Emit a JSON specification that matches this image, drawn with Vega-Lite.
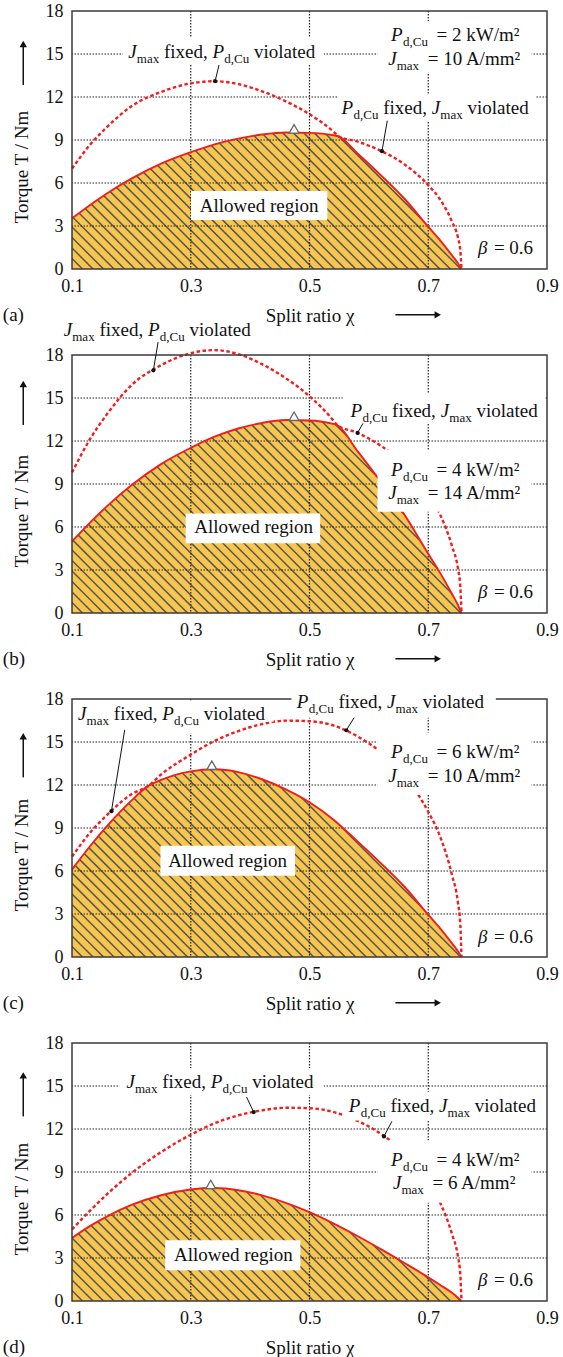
{
"$schema":"https://vega.github.io/schema/vega-lite/v6.json",
"background":"white",
"padding":{"left":2,"top":2,"right":2,"bottom":2},
"autosize":{"type":"pad"},
"data":{"values":[
{"p":"a","k":"c","x":0.1,"a":3.53,"d":7.0},{"p":"a","k":"c","x":0.13,"a":4.45,"d":8.65},{"p":"a","k":"c","x":0.16,"a":5.3,"d":9.95},{"p":"a","k":"c","x":0.2,"a":6.3,"d":11.35},{"p":"a","k":"c","x":0.25,"a":7.35,"d":12.35},{"p":"a","k":"c","x":0.3,"a":8.15,"d":12.95},{"p":"a","k":"c","x":0.34,"a":8.7,"d":13.1},{"p":"a","k":"c","x":0.38,"a":9.1,"d":12.9},{"p":"a","k":"c","x":0.42,"a":9.38,"d":12.4},{"p":"a","k":"c","x":0.46,"a":9.52,"d":11.7},{"p":"a","k":"c","x":0.5,"a":9.5,"d":10.8},{"p":"a","k":"c","x":0.54,"a":9.33,"d":9.6},{"p":"a","k":"c","x":0.55,"a":9.23,"d":9.23},{"p":"a","k":"c","x":0.58,"a":8.1,"d":8.9},{"p":"a","k":"c","x":0.62,"a":6.55,"d":8.25},{"p":"a","k":"c","x":0.66,"a":4.9,"d":7.3},{"p":"a","k":"c","x":0.7,"a":2.95,"d":5.85},{"p":"a","k":"c","x":0.72,"a":2.0,"d":4.85},{"p":"a","k":"c","x":0.74,"a":0.95,"d":3.3},{"p":"a","k":"c","x":0.75,"a":0.4,"d":2.2},{"p":"a","k":"c","x":0.754,"a":0.13,"d":1.3},{"p":"a","k":"c","x":0.756,"a":0,"d":0},{"p":"a","k":"c","x":0.9,"a":0},
{"p":"b","k":"c","x":0.1,"a":4.99,"d":9.8},{"p":"b","k":"c","x":0.13,"a":6.29,"d":12.11},{"p":"b","k":"c","x":0.16,"a":7.49,"d":13.93},{"p":"b","k":"c","x":0.2,"a":8.91,"d":15.89},{"p":"b","k":"c","x":0.25,"a":10.39,"d":17.29},{"p":"b","k":"c","x":0.3,"a":11.52,"d":18.13},{"p":"b","k":"c","x":0.34,"a":12.3,"d":18.34},{"p":"b","k":"c","x":0.38,"a":12.87,"d":18.06},{"p":"b","k":"c","x":0.42,"a":13.26,"d":17.36},{"p":"b","k":"c","x":0.46,"a":13.46,"d":16.38},{"p":"b","k":"c","x":0.5,"a":13.43,"d":15.12},{"p":"b","k":"c","x":0.54,"a":13.19,"d":13.44},{"p":"b","k":"c","x":0.546,"a":13.13,"d":13.13},{"p":"b","k":"c","x":0.58,"a":11.34,"d":12.58},{"p":"b","k":"c","x":0.62,"a":9.17,"d":11.67},{"p":"b","k":"c","x":0.66,"a":6.86,"d":10.32},{"p":"b","k":"c","x":0.7,"a":4.13,"d":8.27},{"p":"b","k":"c","x":0.72,"a":2.8,"d":6.86},{"p":"b","k":"c","x":0.74,"a":1.33,"d":4.67},{"p":"b","k":"c","x":0.75,"a":0.56,"d":3.11},{"p":"b","k":"c","x":0.754,"a":0.18,"d":1.84},{"p":"b","k":"c","x":0.756,"a":0,"d":0},{"p":"b","k":"c","x":0.9,"a":0},
{"p":"c","k":"c","x":0.1,"a":6.11,"d":7.0},{"p":"c","k":"c","x":0.13,"a":7.71,"d":8.65},{"p":"c","k":"c","x":0.16,"a":9.18,"d":9.95},{"p":"c","k":"c","x":0.2,"a":10.91,"d":11.35},{"p":"c","k":"c","x":0.228,"a":11.92,"d":11.92},{"p":"c","k":"c","x":0.25,"a":12.35,"d":12.73},{"p":"c","k":"c","x":0.3,"a":12.95,"d":14.12},{"p":"c","k":"c","x":0.34,"a":13.1,"d":15.07},{"p":"c","k":"c","x":0.38,"a":12.9,"d":15.76},{"p":"c","k":"c","x":0.42,"a":12.4,"d":16.25},{"p":"c","k":"c","x":0.46,"a":11.7,"d":16.49},{"p":"c","k":"c","x":0.5,"a":10.8,"d":16.45},{"p":"c","k":"c","x":0.54,"a":9.6,"d":16.16},{"p":"c","k":"c","x":0.58,"a":8.1,"d":15.41},{"p":"c","k":"c","x":0.62,"a":6.55,"d":14.29},{"p":"c","k":"c","x":0.66,"a":4.9,"d":12.64},{"p":"c","k":"c","x":0.7,"a":2.95,"d":10.13},{"p":"c","k":"c","x":0.72,"a":2.0,"d":8.4},{"p":"c","k":"c","x":0.74,"a":0.95,"d":5.72},{"p":"c","k":"c","x":0.75,"a":0.4,"d":3.81},{"p":"c","k":"c","x":0.754,"a":0.13,"d":2.25},{"p":"c","k":"c","x":0.756,"a":0,"d":0},{"p":"c","k":"c","x":0.9,"a":0},
{"p":"d","k":"c","x":0.1,"a":4.4,"d":4.99},{"p":"d","k":"c","x":0.13,"a":5.22,"d":6.29},{"p":"d","k":"c","x":0.16,"a":5.92,"d":7.49},{"p":"d","k":"c","x":0.2,"a":6.7,"d":8.91},{"p":"d","k":"c","x":0.25,"a":7.38,"d":10.39},{"p":"d","k":"c","x":0.3,"a":7.78,"d":11.6},{"p":"d","k":"c","x":0.34,"a":7.88,"d":12.4},{"p":"d","k":"c","x":0.38,"a":7.73,"d":12.95},{"p":"d","k":"c","x":0.42,"a":7.37,"d":13.3},{"p":"d","k":"c","x":0.46,"a":6.85,"d":13.48},{"p":"d","k":"c","x":0.5,"a":6.2,"d":13.45},{"p":"d","k":"c","x":0.54,"a":5.42,"d":13.19},{"p":"d","k":"c","x":0.58,"a":4.55,"d":12.58},{"p":"d","k":"c","x":0.62,"a":3.62,"d":11.67},{"p":"d","k":"c","x":0.66,"a":2.65,"d":10.32},{"p":"d","k":"c","x":0.7,"a":1.65,"d":8.27},{"p":"d","k":"c","x":0.72,"a":1.12,"d":6.86},{"p":"d","k":"c","x":0.74,"a":0.57,"d":4.67},{"p":"d","k":"c","x":0.75,"a":0.23,"d":3.11},{"p":"d","k":"c","x":0.754,"a":0.08,"d":1.84},{"p":"d","k":"c","x":0.756,"a":0,"d":0},{"p":"d","k":"c","x":0.9,"a":0},
{"p":"a","k":"h","h0":[0.1,0.1177,0.1354,0.1531,0.1708,0.1885,0.2062,0.2239,0.2416,0.2593,0.277,0.2947,0.3124,0.3301,0.3478,0.3655,0.3832,0.4009,0.4186,0.4363,0.454,0.4717,0.4894,0.5071,0.5248,0.5425,0.5602,0.5779,0.5956,0.6133,0.631,0.6487,0.6664,0.6841,0.7018,0.7195,0.7372,0.7549,0.7726,0.7903,0.808,0.8257,0.8434,0.8611,0.8788,0.8965,0.9142,0.9319,0.9496,0.9673,0.985,1.0027,1.0204,1.0381,1.0558,1.0735,1.0912,1.1089,1.1266],"h1":[-0.3345,-0.3168,-0.2991,-0.2814,-0.2637,-0.246,-0.2283,-0.2106,-0.1929,-0.1752,-0.1575,-0.1398,-0.1221,-0.1044,-0.0867,-0.069,-0.0513,-0.0336,-0.0159,0.0018,0.0195,0.0372,0.0549,0.0726,0.0903,0.108,0.1257,0.1434,0.1611,0.1788,0.1965,0.2142,0.2319,0.2496,0.2673,0.285,0.3027,0.3204,0.3381,0.3558,0.3735,0.3912,0.4089,0.4266,0.4443,0.462,0.4797,0.4974,0.5151,0.5328,0.5505,0.5682,0.5859,0.6036,0.6213,0.639,0.6567,0.6744,0.6921]},
{"p":"b","k":"h","h0":[0.1,0.1177,0.1354,0.1531,0.1708,0.1885,0.2062,0.2239,0.2416,0.2593,0.277,0.2947,0.3124,0.3301,0.3478,0.3655,0.3832,0.4009,0.4186,0.4363,0.454,0.4717,0.4894,0.5071,0.5248,0.5425,0.5602,0.5779,0.5956,0.6133,0.631,0.6487,0.6664,0.6841,0.7018,0.7195,0.7372,0.7549,0.7726,0.7903,0.808,0.8257,0.8434,0.8611,0.8788,0.8965,0.9142,0.9319,0.9496,0.9673,0.985,1.0027,1.0204,1.0381,1.0558,1.0735,1.0912,1.1089,1.1266],"h1":[-0.3345,-0.3168,-0.2991,-0.2814,-0.2637,-0.246,-0.2283,-0.2106,-0.1929,-0.1752,-0.1575,-0.1398,-0.1221,-0.1044,-0.0867,-0.069,-0.0513,-0.0336,-0.0159,0.0018,0.0195,0.0372,0.0549,0.0726,0.0903,0.108,0.1257,0.1434,0.1611,0.1788,0.1965,0.2142,0.2319,0.2496,0.2673,0.285,0.3027,0.3204,0.3381,0.3558,0.3735,0.3912,0.4089,0.4266,0.4443,0.462,0.4797,0.4974,0.5151,0.5328,0.5505,0.5682,0.5859,0.6036,0.6213,0.639,0.6567,0.6744,0.6921]},
{"p":"c","k":"h","h0":[0.1,0.1177,0.1354,0.1531,0.1708,0.1885,0.2062,0.2239,0.2416,0.2593,0.277,0.2947,0.3124,0.3301,0.3478,0.3655,0.3832,0.4009,0.4186,0.4363,0.454,0.4717,0.4894,0.5071,0.5248,0.5425,0.5602,0.5779,0.5956,0.6133,0.631,0.6487,0.6664,0.6841,0.7018,0.7195,0.7372,0.7549,0.7726,0.7903,0.808,0.8257,0.8434,0.8611,0.8788,0.8965,0.9142,0.9319,0.9496,0.9673,0.985,1.0027,1.0204,1.0381,1.0558,1.0735,1.0912,1.1089,1.1266],"h1":[-0.3345,-0.3168,-0.2991,-0.2814,-0.2637,-0.246,-0.2283,-0.2106,-0.1929,-0.1752,-0.1575,-0.1398,-0.1221,-0.1044,-0.0867,-0.069,-0.0513,-0.0336,-0.0159,0.0018,0.0195,0.0372,0.0549,0.0726,0.0903,0.108,0.1257,0.1434,0.1611,0.1788,0.1965,0.2142,0.2319,0.2496,0.2673,0.285,0.3027,0.3204,0.3381,0.3558,0.3735,0.3912,0.4089,0.4266,0.4443,0.462,0.4797,0.4974,0.5151,0.5328,0.5505,0.5682,0.5859,0.6036,0.6213,0.639,0.6567,0.6744,0.6921]},
{"p":"d","k":"h","h0":[0.1,0.1177,0.1354,0.1531,0.1708,0.1885,0.2062,0.2239,0.2416,0.2593,0.277,0.2947,0.3124,0.3301,0.3478,0.3655,0.3832,0.4009,0.4186,0.4363,0.454,0.4717,0.4894,0.5071,0.5248,0.5425,0.5602,0.5779,0.5956,0.6133,0.631,0.6487,0.6664,0.6841,0.7018,0.7195,0.7372,0.7549,0.7726,0.7903,0.808,0.8257,0.8434,0.8611,0.8788,0.8965,0.9142,0.9319,0.9496,0.9673,0.985,1.0027,1.0204,1.0381,1.0558,1.0735,1.0912,1.1089,1.1266],"h1":[-0.3345,-0.3168,-0.2991,-0.2814,-0.2637,-0.246,-0.2283,-0.2106,-0.1929,-0.1752,-0.1575,-0.1398,-0.1221,-0.1044,-0.0867,-0.069,-0.0513,-0.0336,-0.0159,0.0018,0.0195,0.0372,0.0549,0.0726,0.0903,0.108,0.1257,0.1434,0.1611,0.1788,0.1965,0.2142,0.2319,0.2496,0.2673,0.285,0.3027,0.3204,0.3381,0.3558,0.3735,0.3912,0.4089,0.4266,0.4443,0.462,0.4797,0.4974,0.5151,0.5328,0.5505,0.5682,0.5859,0.6036,0.6213,0.639,0.6567,0.6744,0.6921]},
{"p":"a","k":"gx","v":0.3},{"p":"a","k":"gx","v":0.5},{"p":"a","k":"gx","v":0.7},{"p":"a","k":"gy","v":3},{"p":"a","k":"gy","v":6},{"p":"a","k":"gy","v":9},{"p":"a","k":"gy","v":12},{"p":"a","k":"gy","v":15},
{"p":"b","k":"gx","v":0.3},{"p":"b","k":"gx","v":0.5},{"p":"b","k":"gx","v":0.7},{"p":"b","k":"gy","v":3},{"p":"b","k":"gy","v":6},{"p":"b","k":"gy","v":9},{"p":"b","k":"gy","v":12},{"p":"b","k":"gy","v":15},
{"p":"c","k":"gx","v":0.3},{"p":"c","k":"gx","v":0.5},{"p":"c","k":"gx","v":0.7},{"p":"c","k":"gy","v":3},{"p":"c","k":"gy","v":6},{"p":"c","k":"gy","v":9},{"p":"c","k":"gy","v":12},{"p":"c","k":"gy","v":15},
{"p":"d","k":"gx","v":0.3},{"p":"d","k":"gx","v":0.5},{"p":"d","k":"gx","v":0.7},{"p":"d","k":"gy","v":3},{"p":"d","k":"gy","v":6},{"p":"d","k":"gy","v":9},{"p":"d","k":"gy","v":12},{"p":"d","k":"gy","v":15},
{"p":"a","k":"bx","x1":0.1858,"x2":0.524,"y1":14.25,"y2":16.14},{"p":"a","k":"bx","x1":0.548,"x2":0.88,"y1":10.3,"y2":12.19},{"p":"a","k":"bx","x1":0.6145,"x2":0.874,"y1":13.7,"y2":17.3},{"p":"a","k":"bx","x1":0.3005,"x2":0.53,"y1":3.42,"y2":5.44},
{"p":"b","k":"bx","x1":0.556,"x2":0.897,"y1":13.18,"y2":15.3},{"p":"b","k":"bx","x1":0.6145,"x2":0.874,"y1":7.07,"y2":11.37},{"p":"b","k":"bx","x1":0.2914,"x2":0.518,"y1":4.86,"y2":6.95},
{"p":"c","k":"bx","x1":0.104,"x2":0.322,"y1":15.6,"y2":17.9},{"p":"c","k":"bx","x1":0.322,"x2":0.4394,"y1":16.42,"y2":17.9},{"p":"c","k":"bx","x1":0.4696,"x2":0.8138,"y1":16.7,"y2":18.6},{"p":"c","k":"bx","x1":0.6145,"x2":0.874,"y1":11.3,"y2":15.67},{"p":"c","k":"bx","x1":0.249,"x2":0.4756,"y1":5.67,"y2":7.77},
{"p":"d","k":"bx","x1":0.1797,"x2":0.524,"y1":14.37,"y2":16.25},{"p":"d","k":"bx","x1":0.557,"x2":0.89,"y1":12.6,"y2":14.6},{"p":"d","k":"bx","x1":0.6145,"x2":0.874,"y1":6.85,"y2":11.2},{"p":"d","k":"bx","x1":0.257,"x2":0.4847,"y1":2.14,"y2":4.23},
{"p":"a","k":"ld","x1":0.3476,"y1":14.23,"x2":0.341,"y2":13.1},{"p":"a","k":"ld","x1":0.631,"y1":10.35,"x2":0.622,"y2":8.22},
{"p":"b","k":"ld","x1":0.245,"y1":18.9,"x2":0.237,"y2":16.93},{"p":"b","k":"ld","x1":0.59,"y1":13.23,"x2":0.581,"y2":12.56},
{"p":"c","k":"ld","x1":0.1888,"y1":15.85,"x2":0.1664,"y2":10.17},{"p":"c","k":"ld","x1":0.5752,"y1":16.7,"x2":0.562,"y2":15.82},
{"p":"d","k":"ld","x1":0.394,"y1":14.23,"x2":0.406,"y2":13.18},{"p":"d","k":"ld","x1":0.6387,"y1":12.53,"x2":0.6254,"y2":11.48},
{"p":"a","k":"tri","x":0.474,"y":9.78},{"p":"b","k":"tri","x":0.474,"y":13.73},{"p":"c","k":"tri","x":0.3355,"y":13.38},{"p":"d","k":"tri","x":0.3337,"y":8.13},
{"p":"a","k":"ax","x1":0.6447,"x2":0.716,"y":-3.2},{"p":"b","k":"ax","x1":0.6447,"x2":0.716,"y":-3.2},{"p":"c","k":"ax","x1":0.6447,"x2":0.716,"y":-3.2},
{"p":"a","k":"ay","x":0.0179,"y1":12.84,"y2":15.7},{"p":"b","k":"ay","x":0.0179,"y1":13.12,"y2":15.98},{"p":"c","k":"ay","x":0.0179,"y1":12.53,"y2":15.4},{"p":"d","k":"ay","x":0.0179,"y1":12.88,"y2":15.74},
{"p":"a","k":"pl","x":-0.0165,"y":-3.65,"t":"(a)"},{"p":"b","k":"pl","x":-0.0165,"y":-3.65,"t":"(b)"},{"p":"c","k":"pl","x":-0.0165,"y":-3.65,"t":"(c)"},{"p":"d","k":"pl","x":-0.0165,"y":-3.65,"t":"(d)"},
{"p":"a","k":"L1","x":0.1948,"y":14.74},{"p":"b","k":"L1","x":0.0861,"y":19.33},{"p":"c","k":"L1","x":0.1103,"y":16.53},{"p":"d","k":"L1","x":0.1918,"y":14.86},
{"p":"a","k":"L2","x":0.554,"y":10.79},{"p":"b","k":"L2","x":0.569,"y":13.67},{"p":"c","k":"L2","x":0.4786,"y":17.35},{"p":"d","k":"L2","x":0.5662,"y":13.16},
{"p":"a","k":"PP","x":0.6374,"y":15.91,"t":"= 2 kW/m²"},{"p":"b","k":"PP","x":0.6374,"y":9.56,"t":"= 4 kW/m²"},{"p":"c","k":"PP","x":0.6374,"y":13.86,"t":"= 6 kW/m²"},{"p":"d","k":"PP","x":0.6374,"y":9.44,"t":"= 4 kW/m²"},
{"p":"a","k":"PJ","x":0.6326,"y":14.21,"t":"= 10 A/mm²"},{"p":"b","k":"PJ","x":0.6326,"y":7.93,"t":"= 14 A/mm²"},{"p":"c","k":"PJ","x":0.6326,"y":12.19,"t":"= 10 A/mm²"},{"p":"d","k":"PJ","x":0.6405,"y":7.81,"t":"= 6 A/mm²"},
{"p":"a","k":"B","x":0.7836,"y":1.02},{"p":"b","k":"B","x":0.7836,"y":1.07},{"p":"c","k":"B","x":0.7836,"y":1.0},{"p":"d","k":"B","x":0.7836,"y":1.07},
{"p":"a","k":"AR","x":0.4152,"y":4.0},{"p":"b","k":"AR","x":0.406,"y":5.56},{"p":"c","k":"AR","x":0.362,"y":6.3},{"p":"d","k":"AR","x":0.3717,"y":2.77}
]},
"facet":{"row":{"field":"p","type":"nominal","header":{"title":null,"labels":false}}},
"spacing":{"row":86},
"bounds":"flush",
"resolve":{"axis":{"x":"independent"}},
"spec":{
"width":475,"height":258,
"layer":[
{"transform":[{"filter":"datum.k=='c'"}],"mark":{"type":"area","color":"#F7C64F","interpolate":"monotone"},
 "encoding":{
  "x":{"field":"x","type":"quantitative","scale":{"domain":[0.1,0.9],"nice":false,"zero":false},
   "axis":{"values":[0.1,0.3,0.5,0.7,0.9],"format":".1f","title":"Split ratio χ","labelPadding":8,"labelFlush":false,"labelOverlap":false,"titleX":237.5,"titleY":46,"titleBaseline":"middle"}},
  "y":{"field":"a","type":"quantitative","scale":{"domain":[0,18],"nice":false,"zero":false},
   "axis":{"values":[0,3,6,9,12,15,18],"format":"d","title":"Torque T / Nm","labelPadding":9,"labelFlush":false,"labelOverlap":false,"titleX":-51,"titleY":155.5,"titleBaseline":"middle"}},
  "y2":{"datum":0}}},
{"transform":[{"filter":"datum.k=='h'"},{"flatten":["h0","h1"]}],"mark":{"type":"rule","color":"#555555","strokeWidth":1.5,"clip":true},
 "encoding":{"x":{"field":"h0","type":"quantitative"},"x2":{"field":"h1"},"y":{"datum":0},"y2":{"datum":18}}},
{"transform":[{"filter":"datum.k=='c'"}],"mark":{"type":"area","color":"white","interpolate":"monotone"},
 "encoding":{"x":{"field":"x","type":"quantitative"},"y":{"field":"a","type":"quantitative"},"y2":{"datum":18}}},
{"transform":[{"filter":"datum.k=='gx'"}],"mark":{"type":"rule","color":"#222","strokeWidth":1.2,"strokeDash":[1.5,1.5]},
 "encoding":{"x":{"field":"v","type":"quantitative"}}},
{"transform":[{"filter":"datum.k=='gy'"}],"mark":{"type":"rule","color":"#222","strokeWidth":1.2,"strokeDash":[1.5,1.5]},
 "encoding":{"y":{"field":"v","type":"quantitative"}}},
{"transform":[{"filter":"datum.k=='c' && datum.x<=0.757"}],"mark":{"type":"line","color":"#F01E1E","strokeWidth":1.9,"interpolate":"monotone"},
 "encoding":{"x":{"field":"x","type":"quantitative"},"y":{"field":"a","type":"quantitative"}}},
{"transform":[{"filter":"datum.k=='c' && isValid(datum.d)"}],"mark":{"type":"line","color":"#F01E1E","strokeWidth":2.4,"strokeDash":[3.5,2.5],"interpolate":"monotone"},
 "encoding":{"x":{"field":"x","type":"quantitative"},"y":{"field":"d","type":"quantitative"}}},
{"transform":[{"filter":"datum.k=='pl'"}],"mark":{"type":"rect","filled":false,"stroke":"#3a3a3a","strokeWidth":1.5},
 "encoding":{"x":{"datum":0.1},"x2":{"datum":0.9},"y":{"datum":0},"y2":{"datum":18}}},
{"transform":[{"filter":"datum.k=='bx'"}],"mark":{"type":"rect","color":"white"},
 "encoding":{"x":{"field":"x1","type":"quantitative"},"x2":{"field":"x2"},"y":{"field":"y1","type":"quantitative"},"y2":{"field":"y2"}}},
{"transform":[{"filter":"datum.k=='ld'"}],"mark":{"type":"rule","color":"#111","strokeWidth":1},
 "encoding":{"x":{"field":"x1","type":"quantitative"},"x2":{"field":"x2"},"y":{"field":"y1","type":"quantitative"},"y2":{"field":"y2"}}},
{"transform":[{"filter":"datum.k=='ld'"}],"mark":{"type":"point","filled":true,"color":"#111","size":18,"opacity":1},
 "encoding":{"x":{"field":"x2","type":"quantitative"},"y":{"field":"y2","type":"quantitative"}}},
{"transform":[{"filter":"datum.k=='tri'"}],"mark":{"type":"point","shape":"triangle-up","filled":true,"fill":"white","stroke":"#666","strokeWidth":1.3,"size":95,"opacity":1},
 "encoding":{"x":{"field":"x","type":"quantitative"},"y":{"field":"y","type":"quantitative"}}},
{"transform":[{"filter":"datum.k=='ax'"}],"mark":{"type":"rule","color":"#111","strokeWidth":1.5},
 "encoding":{"x":{"field":"x1","type":"quantitative"},"x2":{"field":"x2"},"y":{"field":"y","type":"quantitative"}}},
{"transform":[{"filter":"datum.k=='ax'"}],"mark":{"type":"point","shape":"triangle-right","filled":true,"color":"#111","size":55,"opacity":1},
 "encoding":{"x":{"field":"x2","type":"quantitative"},"y":{"field":"y","type":"quantitative"}}},
{"transform":[{"filter":"datum.k=='ay'"}],"mark":{"type":"rule","color":"#111","strokeWidth":1.5},
 "encoding":{"x":{"field":"x","type":"quantitative"},"y":{"field":"y1","type":"quantitative"},"y2":{"field":"y2"}}},
{"transform":[{"filter":"datum.k=='ay'"}],"mark":{"type":"point","shape":"triangle-up","filled":true,"color":"#111","size":55,"opacity":1},
 "encoding":{"x":{"field":"x","type":"quantitative"},"y":{"field":"y2","type":"quantitative"}}},
{"encoding":{"x":{"field":"x","type":"quantitative"},"y":{"field":"y","type":"quantitative"}},
 "layer":[
  {"transform":[{"filter":"datum.k=='L1'"}],"layer":[
   {"mark":{"type":"text","text":"J","fontStyle":"italic"}},
   {"mark":{"type":"text","text":"max","fontSize":13,"dx":8.5,"dy":5}},
   {"mark":{"type":"text","text":"fixed,","dx":35.7}},
   {"mark":{"type":"text","text":"P","fontStyle":"italic","dx":84.2}},
   {"mark":{"type":"text","text":"d,Cu","fontSize":13,"dx":96,"dy":5}},
   {"mark":{"type":"text","text":"violated","dx":125.7}}]},
  {"transform":[{"filter":"datum.k=='L2'"}],"layer":[
   {"mark":{"type":"text","text":"P","fontStyle":"italic"}},
   {"mark":{"type":"text","text":"d,Cu","fontSize":13,"dx":12,"dy":5}},
   {"mark":{"type":"text","text":"fixed,","dx":41.6}},
   {"mark":{"type":"text","text":"J","fontStyle":"italic","dx":90.2}},
   {"mark":{"type":"text","text":"max","fontSize":13,"dx":98.8,"dy":5}},
   {"mark":{"type":"text","text":"violated","dx":126}}]},
  {"transform":[{"filter":"datum.k=='PP'"}],"layer":[
   {"mark":{"type":"text","text":"P","fontStyle":"italic"}},
   {"mark":{"type":"text","text":"d,Cu","fontSize":13,"dx":12,"dy":5}},
   {"mark":{"type":"text","dx":45.5},"encoding":{"text":{"field":"t","type":"nominal"}}}]},
  {"transform":[{"filter":"datum.k=='PJ'"}],"layer":[
   {"mark":{"type":"text","text":"J","fontStyle":"italic"}},
   {"mark":{"type":"text","text":"max","fontSize":13,"dx":8.5,"dy":5}},
   {"mark":{"type":"text","dx":39.5},"encoding":{"text":{"field":"t","type":"nominal"}}}]},
  {"transform":[{"filter":"datum.k=='B'"}],"layer":[
   {"mark":{"type":"text","text":"β","fontStyle":"italic"}},
   {"mark":{"type":"text","text":"= 0.6","dx":16}}]},
  {"transform":[{"filter":"datum.k=='AR'"}],"mark":{"type":"text","text":"Allowed region","align":"center"}},
  {"transform":[{"filter":"datum.k=='pl'"}],"mark":{"type":"text"},"encoding":{"text":{"field":"t","type":"nominal"}}}
 ]}
]},
"config":{
 "view":{"stroke":null},
 "axis":{"labelFont":"Liberation Serif","titleFont":"Liberation Serif","labelFontSize":18,"titleFontSize":19,"titleFontWeight":"normal","labelColor":"#111","titleColor":"#111","grid":false,"ticks":false,"tickSize":0,"domain":false},
 "text":{"font":"Liberation Serif","fontSize":19,"color":"#111","align":"left","baseline":"alphabetic"}
}
}
